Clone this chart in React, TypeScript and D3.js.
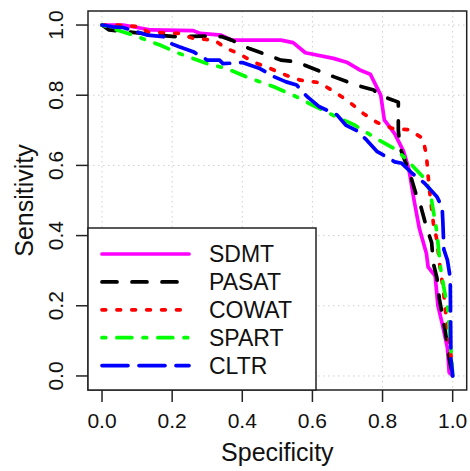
import React from "react";
import { scaleLinear, line } from "d3";

// values
const ticks = [0, 0.2, 0.4, 0.6, 0.8, 1.0];
const tickLabels = ["0.0", "0.2", "0.4", "0.6", "0.8", "1.0"];
const testNames = ["SDMT", "PASAT", "COWAT", "SPART", "CLTR"];
const colors = ["#ff00ff", "#000000", "#ff0000", "#00ff00", "#0000ff"];
const dashes = ["none", "15 15", "3.7 11.2", "3.7 11.2 14.9 11.2", "26 11"];

const sdmtSpec = [0, 0.06, 0.14, 0.26, 0.28, 0.34, 0.37, 0.51, 0.545, 0.58, 0.66, 0.7, 0.735, 0.765, 0.795, 0.805, 0.835, 0.86, 0.875, 0.89, 0.905, 0.925, 0.93, 0.95, 0.958, 0.97, 0.985, 0.99, 1.0];
const sdmtSens = [1, 1, 0.986, 0.984, 0.976, 0.971, 0.957, 0.957, 0.95, 0.921, 0.905, 0.893, 0.872, 0.86, 0.8, 0.73, 0.69, 0.64, 0.59, 0.5, 0.42, 0.35, 0.31, 0.285, 0.2, 0.15, 0.08, 0.01, 0];

const pasatSpec = [0, 0.02, 0.08, 0.16, 0.21, 0.31, 0.34, 0.37, 0.42, 0.47, 0.51, 0.555, 0.6, 0.66, 0.7, 0.735, 0.775, 0.79, 0.83, 0.845, 0.845, 0.85, 0.88, 0.895, 0.91, 0.925, 0.94, 0.945, 0.955, 0.962, 0.975, 0.985, 0.99, 1];
const pasatSens = [1, 0.986, 0.98, 0.971, 0.967, 0.969, 0.967, 0.957, 0.933, 0.915, 0.9, 0.895, 0.877, 0.853, 0.838, 0.826, 0.815, 0.8, 0.786, 0.78, 0.7, 0.65, 0.57, 0.52, 0.48, 0.425, 0.38, 0.32, 0.28, 0.22, 0.15, 0.09, 0.05, 0];

const cowatSpec = [0, 0.04, 0.11, 0.13, 0.22, 0.26, 0.32, 0.355, 0.39, 0.43, 0.48, 0.525, 0.565, 0.62, 0.67, 0.705, 0.745, 0.785, 0.83, 0.875, 0.915, 0.925, 0.93, 0.935, 0.945, 0.955, 0.965, 0.973, 0.98, 0.99, 0.995, 1];
const cowatSens = [1, 1, 0.995, 0.98, 0.976, 0.962, 0.957, 0.933, 0.919, 0.895, 0.876, 0.857, 0.843, 0.836, 0.805, 0.781, 0.748, 0.722, 0.705, 0.702, 0.677, 0.63, 0.57, 0.52, 0.435, 0.387, 0.3, 0.25, 0.18, 0.1, 0.06, 0];

const spartSpec = [0, 0.03, 0.09, 0.165, 0.22, 0.3, 0.355, 0.41, 0.49, 0.545, 0.6, 0.665, 0.72, 0.79, 0.84, 0.87, 0.915, 0.935, 0.945, 0.955, 0.965, 0.975, 0.985, 0.993, 0.997, 1];
const spartSens = [1, 0.99, 0.971, 0.943, 0.919, 0.89, 0.876, 0.853, 0.824, 0.8, 0.772, 0.74, 0.715, 0.672, 0.644, 0.615, 0.568, 0.53, 0.47, 0.41, 0.31, 0.25, 0.2, 0.1, 0.05, 0];

const cltrSpec = [0, 0.03, 0.06, 0.13, 0.175, 0.195, 0.22, 0.26, 0.3, 0.335, 0.345, 0.4, 0.45, 0.49, 0.525, 0.555, 0.585, 0.62, 0.67, 0.695, 0.725, 0.755, 0.785, 0.81, 0.835, 0.855, 0.885, 0.92, 0.955, 0.97, 0.972, 0.975, 0.985, 0.993, 0.995, 1];
const cltrSens = [1, 0.995, 0.993, 0.971, 0.967, 0.948, 0.938, 0.924, 0.9, 0.9, 0.89, 0.893, 0.876, 0.853, 0.838, 0.829, 0.796, 0.767, 0.744, 0.715, 0.7, 0.672, 0.639, 0.625, 0.61, 0.606, 0.577, 0.549, 0.511, 0.48, 0.44, 0.36, 0.33, 0.28, 0.05, 0];

const specs = [sdmtSpec, pasatSpec, cowatSpec, spartSpec, cltrSpec];
const senss = [sdmtSens, pasatSens, cowatSens, spartSens, cltrSens];

export default function App() {
  const width = 470,
    height = 471;
  const font = "'Liberation Sans', Arial, sans-serif";

  const x = scaleLinear().domain([-0.04, 1.04]).range([88, 466.7]);
  const y = scaleLinear().domain([-0.04, 1.04]).range([390, 11]);

  const path = line<[number, number]>()
    .x(d => x(d[0]))
    .y(d => y(d[1]));

  const left = x(-0.04),
    right = x(1.04),
    top = y(1.04),
    bottom = y(-0.04);

  // legend box
  const legLeft = left,
    legTop = 228,
    legRight = 316,
    legRowH = 27.9,
    legY0 = 254;

  return (
    <svg
      width={width}
      height={height}
      style={{ position: "absolute", left: 0, top: 0, background: "#fff" }}
      fontFamily={font}
    >
      {/* grid */}
      {ticks.map(t => (
        <g key={"g" + t} stroke="#cfcfcf" strokeWidth={1} strokeDasharray="1.5 3.5">
          <line x1={x(t)} x2={x(t)} y1={top} y2={bottom} />
          <line x1={left} x2={right} y1={y(t)} y2={y(t)} />
        </g>
      ))}

      {/* curves */}
      {testNames.map((name, i) => (
        <path
          key={name}
          d={path(specs[i].map((s, j) => [s, senss[i][j]] as [number, number])) || ""}
          fill="none"
          stroke={colors[i]}
          strokeWidth={3.7}
          strokeLinecap="round"
          strokeLinejoin="round"
          strokeDasharray={dashes[i]}
        />
      ))}

      {/* box */}
      <rect
        x={left}
        y={top}
        width={right - left}
        height={bottom - top}
        fill="none"
        stroke="#222"
        strokeWidth={1.5}
      />

      {/* x axis */}
      {ticks.map((t, i) => (
        <g key={"x" + t}>
          <line x1={x(t)} x2={x(t)} y1={bottom} y2={bottom + 12} stroke="#222" strokeWidth={1.5} />
          <text x={x(t)} y={428} textAnchor="middle" fontSize={21} fill="#111">
            {tickLabels[i]}
          </text>
        </g>
      ))}
      <text x={(x(0) + x(1)) / 2} y={461} textAnchor="middle" fontSize={25} fill="#111">
        Specificity
      </text>

      {/* y axis */}
      {ticks.map((t, i) => (
        <g key={"y" + t}>
          <line x1={left - 12} x2={left} y1={y(t)} y2={y(t)} stroke="#222" strokeWidth={1.5} />
          <text
            transform={`translate(63,${y(t)}) rotate(-90)`}
            textAnchor="middle"
            fontSize={21}
            fill="#111"
          >
            {tickLabels[i]}
          </text>
        </g>
      ))}
      <text
        transform={`translate(33,${(y(0) + y(1)) / 2}) rotate(-90)`}
        textAnchor="middle"
        fontSize={25}
        fill="#111"
      >
        Sensitivity
      </text>

      {/* legend */}
      <rect
        x={legLeft}
        y={legTop}
        width={legRight - legLeft}
        height={bottom - legTop}
        fill="#fff"
        stroke="#222"
        strokeWidth={1.5}
      />
      {testNames.map((name, i) => {
        const ly = legY0 + i * legRowH;
        return (
          <g key={"l" + name}>
            <line
              x1={102}
              x2={189}
              y1={ly}
              y2={ly}
              stroke={colors[i]}
              strokeWidth={3.7}
              strokeLinecap="round"
              strokeDasharray={dashes[i]}
            />
            <text x={209} y={ly + 8.3} fontSize={23} fill="#111">
              {name}
            </text>
          </g>
        );
      })}
    </svg>
  );
}
